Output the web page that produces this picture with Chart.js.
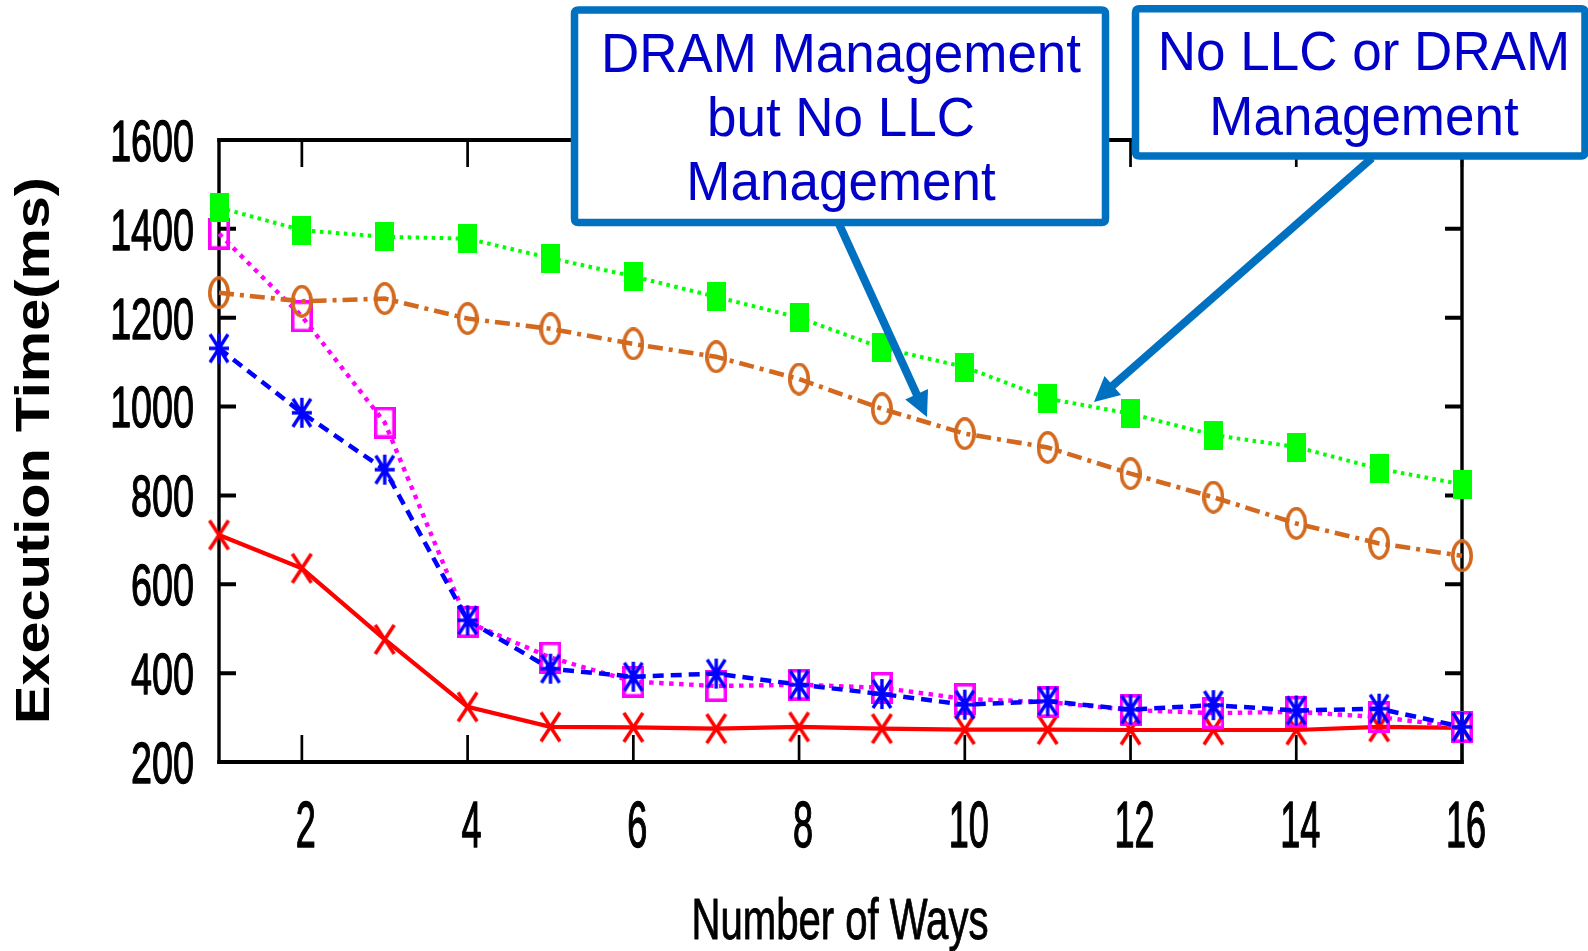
<!DOCTYPE html>
<html>
<head>
<meta charset="utf-8">
<script src="https://cdn.jsdelivr.net/npm/chart.js@4/dist/chart.umd.min.js"></script>
<style>
html,body{margin:0;padding:0;background:#ffffff;}
#wrap{position:relative;width:1588px;height:951px;}
</style>
</head>
<body>
<div id="wrap"><canvas id="c"></canvas></div>
<script>
// ---------------- data ----------------
const ways = [1,2,3,4,5,6,7,8,9,10,11,12,13,14,15,16];
const xTickValues = [2,4,6,8,10,12,14,16];
const yTickValues = [200,400,600,800,1000,1200,1400,1600];

const noLlcNoDram   = [1448,1397,1382,1378,1334,1293,1247,1200,1132,1089,1018,984,936,909,860,825];
const dramNoLlc     = [1256,1237,1243,1198,1175,1141,1112,1062,995,939,908,849,796,737,692,664];
const seriesMagenta = [1389,1203,964,515,435,381,371,374,367,342,335,317,310,313,301,279];
const seriesBlue    = [1131,986,858,519,410,392,399,374,353,329,337,318,328,316,320,279];
const seriesRed     = [711,636,476,324,279,278,275,279,275,273,273,272,272,272,279,277];

const xTitle = "Number of Ways";
const yTitle = "Execution Time(ms)";
const note1Lines = ["DRAM Management","but No LLC","Management"];
const note2Lines = ["No LLC or DRAM","Management"];

// ---------------- markers ----------------
function mk(w,h,draw){const c=document.createElement('canvas');c.width=w;c.height=h;const g=c.getContext('2d');draw(g,w,h);return c;}
const mGreen = mk(19,29,(g,w,h)=>{g.fillStyle='#00FF00';g.fillRect(0,0,w,h);});
const mMag = mk(22,32,(g,w,h)=>{g.strokeStyle='#FF00FF';g.lineWidth=3.6;g.strokeRect(1.8,1.8,w-3.6,h-3.6);});
const mOrange = mk(22,33,(g,w,h)=>{g.strokeStyle='#D2691E';g.lineWidth=3.6;g.beginPath();g.ellipse(w/2,h/2,w/2-1.8,h/2-1.8,0,0,Math.PI*2);g.stroke();});
const mBlue = mk(22,32,(g,w,h)=>{g.strokeStyle='#0000FF';g.lineWidth=3.4;g.beginPath();
  g.moveTo(w/2,1);g.lineTo(w/2,h-1);g.moveTo(1,h/2);g.lineTo(w-1,h/2);
  g.moveTo(2,2);g.lineTo(w-2,h-2);g.moveTo(w-2,2);g.lineTo(2,h-2);g.stroke();});
const mRed = mk(23,33,(g,w,h)=>{g.strokeStyle='#FF0000';g.lineWidth=3.6;g.beginPath();
  g.moveTo(2,2);g.lineTo(w-2,h-2);g.moveTo(w-2,2);g.lineTo(2,h-2);g.stroke();});

const pts = arr => ways.map((w,i)=>({x:w,y:arr[i]}));

function ds(label, arr, color, dash, width, marker){
  return {label, data:pts(arr), borderColor:color, backgroundColor:color, borderWidth:width,
    borderDash:dash, pointStyle:marker, pointRadius:10, pointHoverRadius:10, tension:0, clip:false, fill:false};
}

const FONT = '"Liberation Sans", Arial, Helvetica, sans-serif';

function sText(ctx, txt, x, y, font, sx, sy, align, color, strokeW){
  ctx.save(); ctx.font = font; ctx.fillStyle = color; ctx.textAlign = align; ctx.textBaseline = 'alphabetic';
  ctx.translate(x, y); ctx.scale(sx, sy); ctx.fillText(txt, 0, 0);
  if (strokeW) { ctx.strokeStyle = color; ctx.lineWidth = strokeW; ctx.lineJoin='round'; ctx.strokeText(txt, 0, 0); }
  ctx.restore();
}

function roundRect(ctx, x, y, w, h, r){
  ctx.beginPath(); ctx.moveTo(x+r,y); ctx.lineTo(x+w-r,y); ctx.quadraticCurveTo(x+w,y,x+w,y+r);
  ctx.lineTo(x+w,y+h-r); ctx.quadraticCurveTo(x+w,y+h,x+w-r,y+h); ctx.lineTo(x+r,y+h);
  ctx.quadraticCurveTo(x,y+h,x,y+h-r); ctx.lineTo(x,y+r); ctx.quadraticCurveTo(x,y,x+r,y); ctx.closePath();
}

function arrow(ctx, x0, y0, x1, y1){
  const dx=x1-x0, dy=y1-y0, L=Math.hypot(dx,dy), ux=dx/L, uy=dy/L, hl=25, hw=12.5;
  const bx=x1-ux*hl, by=y1-uy*hl;
  ctx.save(); ctx.strokeStyle='#0070C0'; ctx.fillStyle='#0070C0'; ctx.lineWidth=8; ctx.lineCap='butt';
  ctx.beginPath(); ctx.moveTo(x0,y0); ctx.lineTo(bx+ux*3,by+uy*3); ctx.stroke();
  ctx.beginPath(); ctx.moveTo(x1,y1); ctx.lineTo(bx-uy*hw, by+ux*hw); ctx.lineTo(bx+uy*hw, by-ux*hw); ctx.closePath(); ctx.fill();
  ctx.restore();
}

function noteBox(ctx, l, t, r, b, lines, cx, baselines){
  ctx.save(); roundRect(ctx, l, t, r-l, b-t, 4); ctx.fillStyle='#ffffff'; ctx.fill();
  ctx.lineWidth=7.5; ctx.strokeStyle='#0070C0'; ctx.stroke(); ctx.restore();
  lines.forEach((s,i)=>sText(ctx, s, cx, baselines[i], '53px '+FONT, 1, 1.03, 'center', '#0000C8'));
}

const framePlugin = {
  id:'frame',
  beforeDatasetsDraw(chart){
    const ctx = chart.ctx, a = chart.chartArea, xs = chart.scales.x, ys = chart.scales.y;
    ctx.save(); ctx.strokeStyle='#000000'; ctx.lineCap='butt';
    ctx.lineWidth = 4;
    yTickValues.forEach(v=>{ const py = ys.getPixelForValue(v);
      ctx.beginPath(); ctx.moveTo(a.left, py); ctx.lineTo(a.left+17, py);
      ctx.moveTo(a.right, py); ctx.lineTo(a.right-17, py); ctx.stroke(); });
    ctx.lineWidth = 2.7;
    xTickValues.forEach(v=>{ const px = xs.getPixelForValue(v);
      ctx.beginPath(); ctx.moveTo(px, a.bottom); ctx.lineTo(px, a.bottom-27);
      ctx.moveTo(px, a.top); ctx.lineTo(px, a.top+27); ctx.stroke(); });
    ctx.lineWidth = 3.4;
    ctx.beginPath(); ctx.moveTo(a.left, a.top-2); ctx.lineTo(a.left, a.bottom+2);
    ctx.moveTo(a.right, a.top-2); ctx.lineTo(a.right, a.bottom+2); ctx.stroke();
    ctx.lineWidth = 4;
    ctx.beginPath(); ctx.moveTo(a.left-1.7, a.top); ctx.lineTo(a.right+1.7, a.top);
    ctx.moveTo(a.left-1.7, a.bottom); ctx.lineTo(a.right+1.7, a.bottom); ctx.stroke();
    ctx.restore();
  },
  afterDraw(chart){
    const ctx = chart.ctx, xs = chart.scales.x, ys = chart.scales.y;
    yTickValues.forEach(v=>{ const py = ys.getPixelForValue(v);
      sText(ctx, String(v), 194, py+20.8, '58px '+FONT, 0.65, 1, 'right', '#000000', 1.3); });
    xTickValues.forEach(v=>{ const px = xs.getPixelForValue(v);
      sText(ctx, String(v), px+4, 846.5, '65px '+FONT, 0.555, 1, 'center', '#000000', 1.4); });
    ctx.save(); ctx.font = '58px '+FONT;
    const wx = ctx.measureText(xTitle).width; ctx.restore();
    sText(ctx, xTitle, 840, 939, '58px '+FONT, 297/wx, 1, 'center', '#000000', 0.9);
    ctx.save(); ctx.font = 'bold 48px '+FONT;
    const wy = ctx.measureText(yTitle).width;
    ctx.translate(32, 450.5); ctx.rotate(-Math.PI/2); ctx.scale(547/wy, 1);
    ctx.fillStyle = '#000000'; ctx.textAlign='center'; ctx.textBaseline='alphabetic';
    ctx.fillText(yTitle, 0, 17); ctx.restore();
    arrow(ctx, 839, 224, 927, 417);
    arrow(ctx, 1372, 158, 1094, 402);
    noteBox(ctx, 574.5, 10, 1105.5, 222.5, note1Lines, 841, [72.3, 135.8, 200]);
    noteBox(ctx, 1135.5, 8.8, 1585, 156, note2Lines, 1364, [70, 135]);
  }
};

new Chart(document.getElementById('c'), {
  type:'line',
  data:{ datasets:[
    ds('No LLC or DRAM Management', noLlcNoDram, '#00FF00', [3.5,4.5], 4, mGreen),
    ds('DRAM Management but No LLC Management', dramNoLlc, '#D2691E', [15,6,4,6], 4.6, mOrange),
    ds('Series C', seriesBlue, '#0000FF', [11,7], 4.5, mBlue),
    ds('Series D', seriesMagenta, '#FF00FF', [4.5,5.5], 4.4, mMag),
    ds('Series E', seriesRed, '#FF0000', [], 4.2, mRed)
  ]},
  options:{
    responsive:true, maintainAspectRatio:false, animation:false,
    layout:{ padding:{ left:219, top:140, right:126, bottom:189 } },
    plugins:{ legend:{display:false}, tooltip:{enabled:false}, title:{display:false} },
    scales:{
      x:{ type:'linear', min:1, max:16, display:false },
      y:{ type:'linear', min:200, max:1600, display:false }
    }
  },
  plugins:[framePlugin]
});
</script>
</body>
</html>
